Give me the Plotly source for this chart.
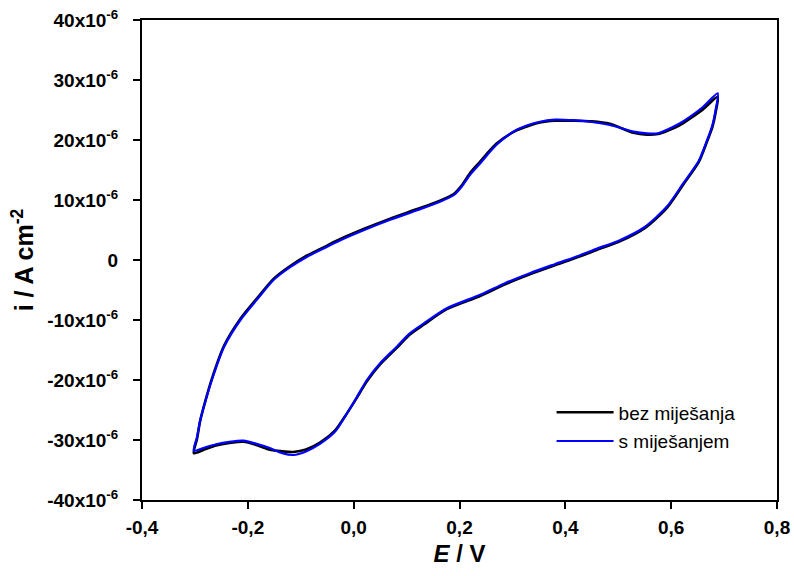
import plotly.graph_objects as go

# ---- data (E in V, i in 10^-6 A cm^-2) ----
E_blue = [-0.302, -0.296, -0.290, -0.280, -0.268, -0.245, -0.214, -0.18, -0.151, -0.12, -0.088, -0.055, -0.025,
          0.02, 0.069, 0.12, 0.163, 0.189, 0.204, 0.22, 0.239, 0.27, 0.308, 0.352, 0.38, 0.415, 0.45, 0.484,
          0.529, 0.554, 0.575, 0.592, 0.615, 0.636, 0.66, 0.688,
          0.684, 0.678, 0.668, 0.652, 0.623, 0.592, 0.55, 0.503, 0.46, 0.428, 0.38, 0.333, 0.285, 0.239,
          0.176, 0.132, 0.105, 0.082, 0.050, 0.025, 0.005, -0.013, -0.035, -0.063, -0.09, -0.114, -0.135,
          -0.16, -0.185, -0.208, -0.235, -0.26, -0.28, -0.302]
i_blue = [-31.8, -29.5, -26.7, -23.5, -20.0, -14.5, -10.0, -6.3, -3.3, -1.2, 0.55, 2.0, 3.3,
          5.0, 6.7, 8.3, 9.7, 10.8, 12.2, 14.2, 16.1, 19.2, 21.7, 23.05, 23.4, 23.3, 23.0, 22.5,
          21.4, 21.1, 21.1, 21.7, 22.7, 23.9, 25.5, 27.8,
          25.0, 22.5, 20.0, 16.5, 12.8, 8.9, 5.5, 3.3, 1.9, 0.8, -0.7, -2.2, -3.9, -5.8,
          -8.05, -10.6, -12.3, -14.4, -17.2, -20.0, -23.0, -25.6, -28.6, -30.6, -31.9, -32.5, -32.2,
          -31.3, -30.6, -30.1, -30.3, -30.7, -31.2, -31.8]

E_black = E_blue
i_black = [-32.2, -29.8, -26.8, -23.4, -19.8, -14.3, -9.8, -6.1, -3.1, -1.0, 0.75, 2.2, 3.5,
           5.2, 6.9, 8.5, 9.9, 11.0, 12.4, 14.5, 16.4, 19.4, 21.6, 22.9, 23.2, 23.2, 23.1, 22.7,
           21.2, 20.9, 21.0, 21.5, 22.4, 23.6, 25.1, 27.2,
           24.6, 22.2, 19.8, 16.3, 12.6, 8.7, 5.3, 3.1, 1.7, 0.6, -0.9, -2.4, -4.1, -6.0,
           -8.2, -10.8, -12.5, -14.6, -17.4, -20.2, -23.1, -25.6, -28.4, -30.4, -31.6, -32.0, -31.9,
           -31.6, -30.8, -30.3, -30.5, -30.9, -31.5, -32.2]

x_tickvals = [-0.4, -0.2, 0.0, 0.2, 0.4, 0.6, 0.8]
x_ticktext = ["-0,4", "-0,2", "0,0", "0,2", "0,4", "0,6", "0,8"]
y_tickvals = [-40, -30, -20, -10, 0, 10, 20, 30, 40]
y_ticktext = ["-40x10<sup>-6</sup>", "-30x10<sup>-6</sup>", "-20x10<sup>-6</sup>", "-10x10<sup>-6</sup>", "0",
              "10x10<sup>-6</sup>", "20x10<sup>-6</sup>", "30x10<sup>-6</sup>", "40x10<sup>-6</sup>"]

FONT = "Liberation Sans, Arial, sans-serif"

fig = go.Figure()
fig.add_trace(go.Scatter(x=E_black, y=i_black, mode="lines", name="bez miješanja", legendgroup="a",
                         line=dict(color="black", width=2.6, shape="spline", smoothing=0.7)))
fig.add_trace(go.Scatter(x=E_blue, y=i_blue, mode="lines", name="s miješanjem", legendgroup="b",
                         line=dict(color="#0000ff", width=2.2, shape="spline", smoothing=0.7)))

axis_common = dict(showgrid=False, zeroline=False, showline=True, linecolor="black", linewidth=2,
                   mirror=True, ticks="outside", ticklen=7, tickwidth=2, tickcolor="black",
                   automargin=False,
                   tickfont=dict(family=FONT, size=19, color="black", weight="bold"))

fig.update_xaxes(range=[-0.4, 0.8], tickvals=x_tickvals, ticktext=x_ticktext, ticklabelstandoff=2,
                 title=dict(text="<i>E</i> / V", font=dict(family=FONT, size=24, color="black", weight="bold"),
                            standoff=8),
                 **axis_common)
fig.update_yaxes(range=[-40, 40], tickvals=y_tickvals, ticktext=y_ticktext, ticklabelstandoff=11,
                 title=dict(text="i / A cm<sup>-2</sup>", font=dict(family=FONT, size=25, color="black", weight="bold"),
                            standoff=6),
                 **axis_common)

fig.update_layout(
    width=794, height=576,
    margin=dict(l=142, r=17, t=20, b=76),
    paper_bgcolor="white", plot_bgcolor="white",
    showlegend=True,
    legend=dict(x=0.645, y=0.222, xanchor="left", yanchor="top",
                font=dict(family=FONT, size=19, color="black"),
                bgcolor="rgba(0,0,0,0)", tracegroupgap=1, itemwidth=57, traceorder="grouped"),
)

fig.write_html("out.html",
               config={"displayModeBar": False},
               post_script="document.body.style.margin='0';document.body.style.padding='0';")
